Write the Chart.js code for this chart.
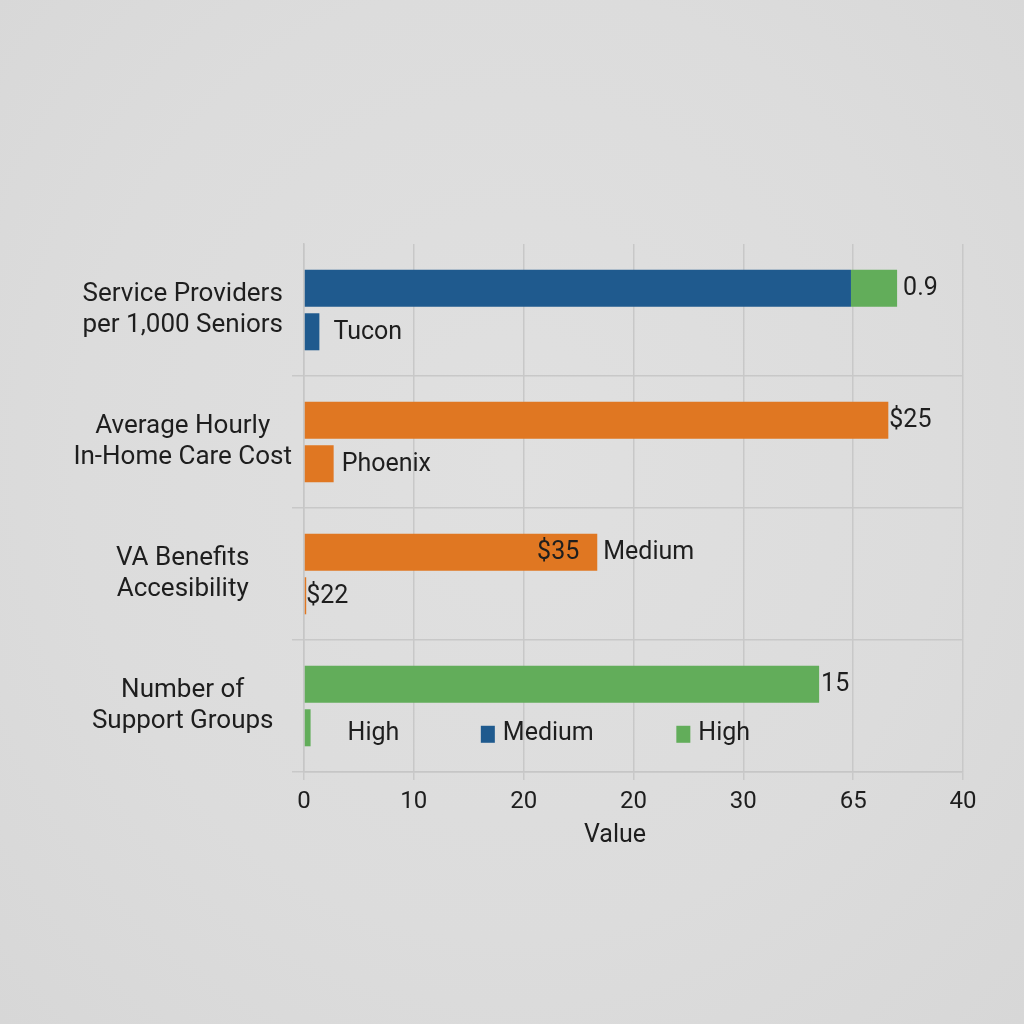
<!DOCTYPE html>
<html><head><meta charset="utf-8">
<script src="https://cdn.jsdelivr.net/npm/chart.js@4.4.1/dist/chart.umd.min.js"></script>
<style>
html,body{margin:0;padding:0;}
body{width:1024px;height:1024px;background:radial-gradient(ellipse at 50% 45%, #e0e0e0 0%, #dcdcdc 60%, #d7d7d7 100%);}
#c{display:block;}
</style>
</head><body>
<canvas id="c" width="1024" height="1024"></canvas>
<script>
// ---- data ----
const categories = [["Service Providers","per 1,000 Seniors"],["Average Hourly","In-Home Care Cost"],["VA Benefits","Accesibility"],["Number of","Support Groups"]];
const primaryValues = [49.8, 53.2, 26.7, 46.9];
const extensionValues = [4.2, 0, 0, 0];
const secondaryValues = [1.4, 2.7, 0.2, 0.6];
const tickLabels = ["0","10","20","20","30","65","40"];
const primaryLabels = ["0.9","$25","Medium","15"];
const primaryInnerLabels = ["","","$35",""];
const secondaryLabels = ["Tucon","Phoenix","$22","High"];
const legendNames = ["Medium","High"];
const axisTitle = "Value";

// ---- style ----
const BLUE = '#1f5a8e', ORANGE = '#e07722', GREEN = '#62ad5a';
const primaryColors = [BLUE, ORANGE, ORANGE, GREEN];
const secondaryColors = [BLUE, ORANGE, ORANGE, GREEN];
const legendColors = [BLUE, GREEN];
const legendAt = [16.1, 33.9];          // x-scale positions of legend swatches
const primaryGap = [6, 1, 6, 2];
const secondaryGap = [14, 8, 0, 37];
const TEXT = '#1e1e1e';
const FONT = 'Roboto, "Liberation Sans", sans-serif';

const labelPlugin = {
  id: 'labels',
  afterDatasetsDraw(chart) {
    const ctx = chart.ctx;
    const m0 = chart.getDatasetMeta(0), m1 = chart.getDatasetMeta(1), m2 = chart.getDatasetMeta(2);
    ctx.save();
    ctx.font = '25px ' + FONT;
    ctx.fillStyle = TEXT;
    ctx.textBaseline = 'middle';
    for (let i = 0; i < categories.length; i++) {
      const endEl = extensionValues[i] > 0 ? m1.data[i] : m0.data[i];
      ctx.textAlign = 'left';
      ctx.fillText(primaryLabels[i], endEl.x + primaryGap[i], endEl.y + 1);
      if (primaryInnerLabels[i]) {
        ctx.textAlign = 'right';
        ctx.fillText(primaryInnerLabels[i], m0.data[i].x - 18, m0.data[i].y + 1);
      }
      ctx.textAlign = 'left';
      const b = m2.data[i];
      const yOff = i === 3 ? 6 : 1;
      ctx.fillText(secondaryLabels[i], b.x + secondaryGap[i], b.y + yOff);
    }
    // in-plot legend
    const xs = chart.scales.x;
    const ly = m2.data[3].y + 6;
    for (let k = 0; k < legendNames.length; k++) {
      const px = xs.getPixelForValue(legendAt[k]);
      ctx.fillStyle = legendColors[k];
      ctx.fillRect(px, ly - 8, 14, 17);
      ctx.fillStyle = TEXT;
      ctx.textAlign = 'left';
      ctx.fillText(legendNames[k], px + 22, ly);
    }
    // axis title
    ctx.font = '25px ' + FONT;
    ctx.textAlign = 'center';
    ctx.fillStyle = TEXT;
    const ca = chart.chartArea;
    ctx.fillText(axisTitle, ca.left + (ca.right - ca.left) * 0.472, ca.bottom + 64);
    ctx.restore();
  }
};

new Chart(document.getElementById('c'), {
  type: 'bar',
  data: {
    labels: categories,
    datasets: [
      { data: primaryValues, backgroundColor: primaryColors, stack: 'top', borderWidth: 0 },
      { data: extensionValues, backgroundColor: GREEN, stack: 'top', borderWidth: 0 },
      { data: secondaryValues, backgroundColor: secondaryColors, stack: 'bottom', borderWidth: 0 }
    ]
  },
  options: {
    indexAxis: 'y',
    responsive: false,
    animation: false,
    devicePixelRatio: 1,
    categoryPercentage: 0.66,
    barPercentage: 0.85,
    layout: { padding: { left: 20, right: 61, top: 244, bottom: 168 } },
    plugins: { legend: { display: false }, tooltip: { enabled: false } },
    scales: {
      x: {
        stacked: true,
        min: 0, max: 60,
        ticks: {
          stepSize: 10,
          padding: 8,
          color: TEXT,
          font: { family: FONT, size: 24 },
          callback: (v, i) => tickLabels[i]
        },
        grid: { color: '#c8c8c8', lineWidth: 1.5, tickLength: 8, drawTicks: true },
        border: { display: true, color: '#c6c6c6', width: 1.5 },
        title: { display: false },
        afterFit: (s) => { s.height = 84; }
      },
      y: {
        stacked: true,
        ticks: {
          color: TEXT,
          crossAlign: 'center',
          padding: 0,
          font: { family: FONT, size: 26, lineHeight: 1.22 }
        },
        grid: {
          offset: true,
          tickLength: 12,
          lineWidth: 1.5,
          color: (c) => c.index === 0 ? 'rgba(0,0,0,0)' : '#c8c8c8'
        },
        border: { display: true, color: '#c6c6c6', width: 1.5 },
        afterFit: (s) => { s.width = 284; }
      }
    }
  },
  plugins: [labelPlugin]
});
</script>
</body></html>
